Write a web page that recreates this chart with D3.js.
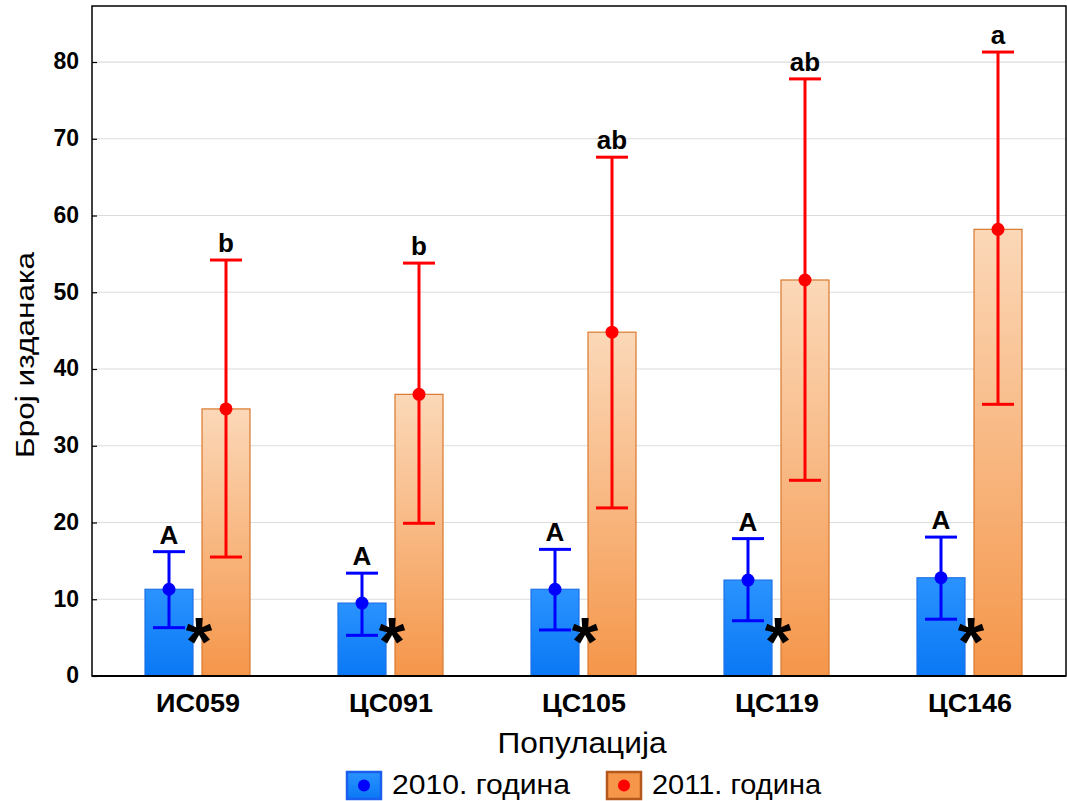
<!DOCTYPE html>
<html><head><meta charset="utf-8">
<script src="https://cdn.jsdelivr.net/npm/d3@7"></script>
<style>body{margin:0;background:#fff}svg{display:block}text{font-family:"Liberation Sans",Arial,sans-serif}</style>
</head><body>
<svg id="c" width="1067" height="801"></svg>
<script>
const categories = ["ИС059","ЦС091","ЦС105","ЦС119","ЦС146"];
const mean2010 = [11.3, 9.5, 11.3, 12.5, 12.8];
const upper2010 = [16.2, 13.4, 16.5, 17.9, 18.1];
const lower2010 = [6.3, 5.3, 6.0, 7.2, 7.4];
const mean2011 = [34.8, 36.7, 44.8, 51.6, 58.2];
const upper2011 = [54.2, 53.8, 67.6, 77.8, 81.3];
const lower2011 = [15.5, 19.9, 21.9, 25.5, 35.4];
const letters2010 = ["A","A","A","A","A"];
const letters2011 = ["b","b","ab","ab","a"];
const yTicks = [0,10,20,30,40,50,60,70,80];
const seriesNames = ["2010. година","2011. година"];

const svg = d3.select("#c");
const L = 92, R = 1066, T = 6, B = 676;
const y = d3.scaleLinear().domain([0, 87.3]).range([B, T]);
const x = d3.scaleBand().domain(categories).range([101.5, 1066.5]).padding(0);
const defs = svg.append("defs");
const gb = defs.append("linearGradient").attr("id","gb").attr("x1",0).attr("y1",0).attr("x2",0).attr("y2",1);
gb.append("stop").attr("offset","0%").attr("stop-color","#2a93ff");
gb.append("stop").attr("offset","100%").attr("stop-color","#0a78f5");
const go = defs.append("linearGradient").attr("id","go").attr("x1",0).attr("y1",0).attr("x2",0).attr("y2",1);
go.append("stop").attr("offset","0%").attr("stop-color","#fbd8b8");
go.append("stop").attr("offset","100%").attr("stop-color","#f5964a");

// grid
svg.append("g").selectAll("line").data(yTicks.slice(1)).join("line")
  .attr("x1",L).attr("x2",R).attr("y1",d=>y(d)).attr("y2",d=>y(d))
  .attr("stroke","#dcdcdc").attr("stroke-width",1.2);

// y axis
const yAxis = d3.axisLeft(y).tickValues(yTicks).tickSize(-5).tickPadding(12).tickFormat(d3.format("d"));
const ya = svg.append("g").attr("transform",`translate(${L},0)`).call(yAxis);
ya.select(".domain").remove();
ya.selectAll("line").attr("stroke","#000").attr("stroke-width",1.2);
ya.selectAll("text").attr("font-size",23).attr("font-weight","bold").attr("fill","#000")
  .attr("dy","0.3em").attr("x",-13);

// x axis labels
const xAxis = d3.axisBottom(x).tickSize(0).tickPadding(0);
const xa = svg.append("g").attr("transform",`translate(0,${B})`).call(xAxis);
xa.select(".domain").remove();
xa.selectAll("text").attr("font-size",25).attr("font-weight","bold").attr("fill","#000")
  .attr("dy",null).attr("y",36).attr("textLength",84).attr("lengthAdjust","spacingAndGlyphs");

const bw = 48;
const cx = c => x(c) + x.bandwidth()/2;
const bx1 = c => cx(c) - 53;
const bx2 = c => cx(c) + 4;

// bars
svg.append("g").selectAll("rect").data(categories).join("rect")
  .attr("x",c=>bx1(c)).attr("width",bw)
  .attr("y",(c,i)=>y(mean2010[i])).attr("height",(c,i)=>B-y(mean2010[i]))
  .attr("fill","url(#gb)").attr("stroke","#1f72e6").attr("stroke-width",1.2);
svg.append("g").selectAll("rect").data(categories).join("rect")
  .attr("x",c=>bx2(c)).attr("width",bw)
  .attr("y",(c,i)=>y(mean2011[i])).attr("height",(c,i)=>B-y(mean2011[i]))
  .attr("fill","url(#go)").attr("stroke","#d9782e").attr("stroke-width",1.2);

function errBars(xf, lo, hi, mu, col, letters){
  const g = svg.append("g");
  categories.forEach((c,i)=>{
    const xm = xf(c) + bw/2;
    g.append("line").attr("x1",xm).attr("x2",xm).attr("y1",y(lo[i])).attr("y2",y(hi[i])).attr("stroke",col).attr("stroke-width",3);
    [lo[i],hi[i]].forEach(v=>g.append("line").attr("x1",xm-16).attr("x2",xm+16).attr("y1",y(v)).attr("y2",y(v)).attr("stroke",col).attr("stroke-width",3));
    g.append("circle").attr("cx",xm).attr("cy",y(mu[i])).attr("r",6.5).attr("fill",col);
    g.append("text").attr("x",xm).attr("y",y(hi[i])-8).attr("text-anchor","middle")
      .attr("font-size",26).attr("font-weight","bold").attr("fill","#000").text(letters[i]);
  });
}
errBars(bx1, lower2010, upper2010, mean2010, "#0000ff", letters2010);
errBars(bx2, lower2011, upper2011, mean2011, "#ff0000", letters2011);

// asterisks
const afs = 68;
svg.append("g").selectAll("text").data(categories).join("text")
  .attr("x",c=>cx(c)+1).attr("y",627 + 0.56*afs).attr("text-anchor","middle")
  .attr("font-size",afs).attr("font-weight","bold").attr("fill","#000").text("*");

// frame
svg.append("rect").attr("x",L).attr("y",T).attr("width",R-L).attr("height",B-T)
  .attr("fill","none").attr("stroke","#000").attr("stroke-width",1.5);
svg.append("line").attr("x1",L).attr("x2",R).attr("y1",B).attr("y2",B).attr("stroke","#000").attr("stroke-width",2.2);

// titles
svg.append("text").attr("x",582).attr("y",753).attr("text-anchor","middle").attr("font-size",29)
  .attr("textLength",169).attr("lengthAdjust","spacingAndGlyphs").attr("fill","#000").text("Популација");
svg.append("text").attr("transform","translate(34,355) rotate(-90)").attr("text-anchor","middle").attr("font-size",26)
  .attr("textLength",206).attr("lengthAdjust","spacingAndGlyphs").attr("fill","#000").text("Број изданака");

// legend
const lg = svg.append("g");
const lx = [347, 607], lw = [178, 169];
const fills = ["url(#gb)","#f5964a"], strokes=["#1a5ff0","#b5581c"], dots=["#0000ff","#ff0000"];
lx.forEach((xx,i)=>{
  lg.append("rect").attr("x",xx).attr("y",772).attr("width",34).attr("height",27).attr("fill",fills[i]).attr("stroke",strokes[i]).attr("stroke-width",2.5);
  lg.append("circle").attr("cx",xx+17).attr("cy",785.5).attr("r",6).attr("fill",dots[i]);
  lg.append("text").attr("x",xx+45).attr("y",794).attr("font-size",28).attr("textLength",lw[i]).attr("lengthAdjust","spacingAndGlyphs").attr("fill","#000").text(seriesNames[i]);
});
</script>
</body></html>
